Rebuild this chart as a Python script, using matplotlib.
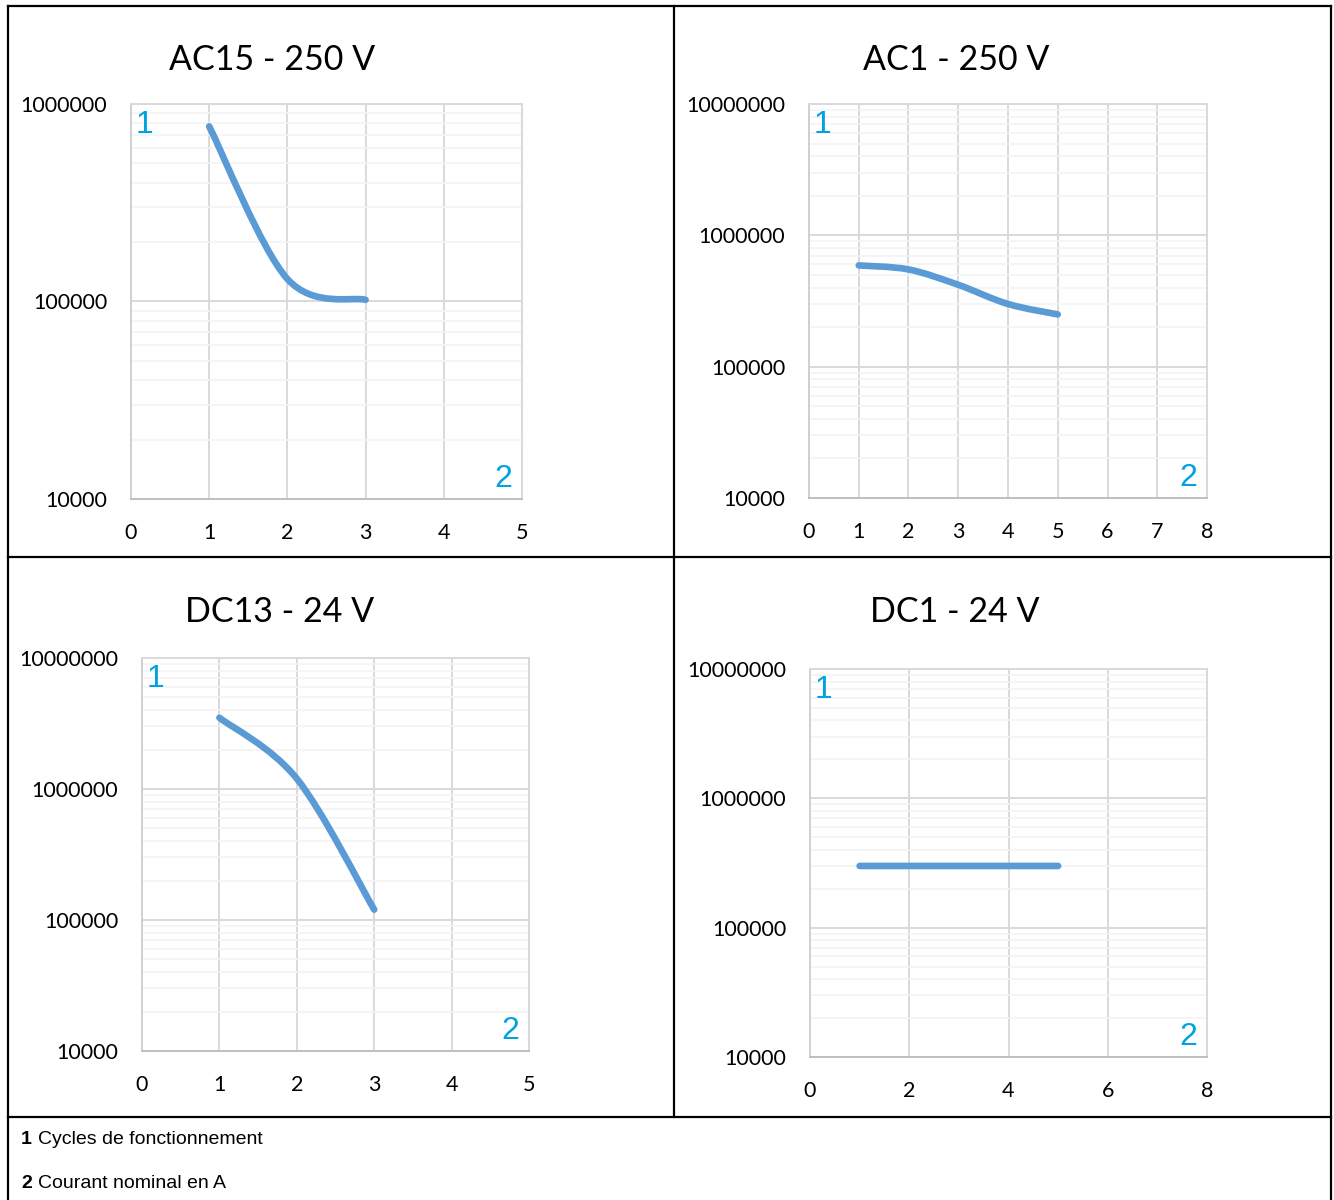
import numpy as np
import matplotlib
matplotlib.use("Agg")
import matplotlib.pyplot as plt
from matplotlib.path import Path
from matplotlib.patches import PathPatch
from matplotlib.lines import Line2D
from matplotlib.ticker import LogLocator, FuncFormatter, MultipleLocator

# chart data
titles = ["AC15 - 250 V", "AC1 - 250 V", "DC13 - 24 V", "DC1 - 24 V"]

ac15_current = [1, 2, 3]
ac15_cycles = [770000, 130000, 102000]

ac1_current = [1, 2, 3, 4, 5]
ac1_cycles = [590000, 550000, 420000, 300000, 250000]

dc13_current = [1, 2, 3]
dc13_cycles = [3500000, 1200000, 120000]

dc1_current = [1, 2, 3, 4, 5]
dc1_cycles = [300000, 300000, 300000, 300000, 300000]

x_max = [5, 8, 5, 8]
x_step = [1, 1, 1, 2]
y_max = [1e6, 1e7, 1e7, 1e7]
y_min = 1e4

legend_lines = [("1", "Cycles de fonctionnement"), ("2", "Courant nominal en A")]

W, H = 1334, 1200
# axes boxes in pixels: left, top, right, bottom
boxes = [(131, 104, 522, 499), (809, 104, 1207, 498),
         (142, 658, 529, 1051), (810, 669, 1207, 1057)]
title_pos = [(272, 60), (956, 60), (280, 612), (955, 612)]

LINE_BLUE = "#5b9bd5"
LABEL_BLUE = "#00a3e0"
MAJOR_GRID = "#d9d9d9"
MINOR_GRID = "#f3f3f3"
TEXT_FONT = ["Lato", "DejaVu Sans"]
ARIAL = ["Liberation Sans", "DejaVu Sans"]


def smooth_path(xs, ys):
    """Bezier path through the points, smoothed in log space like a spreadsheet line."""
    pts = np.column_stack([np.asarray(xs, float), np.log10(ys)])
    n = len(pts)
    verts = [pts[0]]
    codes = [Path.MOVETO]
    for i in range(n - 1):
        p0 = pts[max(i - 1, 0)]
        p1 = pts[i]
        p2 = pts[i + 1]
        p3 = pts[min(i + 2, n - 1)]
        verts += [p1 + (p2 - p0) / 6, p2 - (p3 - p1) / 6, p2]
        codes += [Path.CURVE4] * 3
    verts = np.array(verts)
    verts[:, 1] = 10 ** verts[:, 1]
    return Path(verts, codes)


fig = plt.figure(figsize=(W / 100, H / 100), dpi=100)

series = [(ac15_current, ac15_cycles), (ac1_current, ac1_cycles),
          (dc13_current, dc13_cycles), (dc1_current, dc1_cycles)]

for i, (xs, ys) in enumerate(series):
    l, t, r, b = boxes[i]
    ax = fig.add_axes([l / W, 1 - b / H, (r - l) / W, (b - t) / H])
    ax.set_yscale("log")
    ax.set_xlim(0, x_max[i])
    ax.set_ylim(y_min, y_max[i])

    ax.xaxis.set_major_locator(MultipleLocator(x_step[i]))
    ax.yaxis.set_major_locator(LogLocator(base=10))
    ax.yaxis.set_minor_locator(LogLocator(base=10, subs=range(2, 10)))
    ax.yaxis.set_major_formatter(FuncFormatter(lambda v, _: f"{v:.0f}"))
    ax.yaxis.set_minor_formatter(FuncFormatter(lambda v, _: ""))

    ax.grid(True, which="major", color=MAJOR_GRID, lw=1.4)
    ax.grid(True, which="minor", axis="y", color=MINOR_GRID, lw=1.2)
    ax.set_axisbelow(True)
    for side in ["top", "right", "left", "bottom"]:
        ax.spines[side].set_color(MAJOR_GRID)
        ax.spines[side].set_linewidth(1.4)
    ax.spines["bottom"].set_color("#bfbfbf")
    ax.spines["left"].set_color("#d0d0d0")

    ax.tick_params(which="both", length=0)
    ax.tick_params(axis="y", pad=17, labelsize=15.5, labelcolor="black")
    ax.tick_params(axis="x", pad=17, labelsize=15.5, labelcolor="black")
    for lab in ax.get_xticklabels() + ax.get_yticklabels():
        lab.set_fontfamily(TEXT_FONT)

    patch = PathPatch(smooth_path(xs, ys), transform=ax.transData, fill=False,
                      edgecolor=LINE_BLUE, lw=4.8, capstyle="round", joinstyle="round",
                      zorder=3)
    ax.add_patch(patch)

    ax.text(0.012, 0.985, "1", transform=ax.transAxes, ha="left", va="top",
            color=LABEL_BLUE, fontsize=23, family=ARIAL)
    ax.text(0.975, 0.012, "2", transform=ax.transAxes, ha="right", va="bottom",
            color=LABEL_BLUE, fontsize=23, family=ARIAL)

    tx, ty = title_pos[i]
    fig.text(tx / W, 1 - ty / H, titles[i], ha="center", va="center",
             fontsize=24.5, family=TEXT_FONT, color="black")

# table frame around the charts
def hline(y, x0, x1):
    fig.add_artist(Line2D([x0 / W, x1 / W], [1 - y / H, 1 - y / H], color="black", lw=1.6))

def vline(x, y0, y1):
    fig.add_artist(Line2D([x / W, x / W], [1 - y0 / H, 1 - y1 / H], color="black", lw=1.6))

hline(6, 8, 1331)
hline(557, 8, 1331)
hline(1117, 8, 1331)
vline(8, 6, 1200)
vline(1331, 6, 1200)
vline(674, 6, 1117)

for k, (num, label) in enumerate(legend_lines):
    y = 1 - (1139 + 44 * k) / H
    fig.text(21 / W, y, num, ha="left", va="center", fontsize=14,
             fontweight="bold", family=ARIAL)
    fig.text(38 / W, y, label, ha="left", va="center", fontsize=14, family=ARIAL)

fig.savefig("out.png", dpi=100)
